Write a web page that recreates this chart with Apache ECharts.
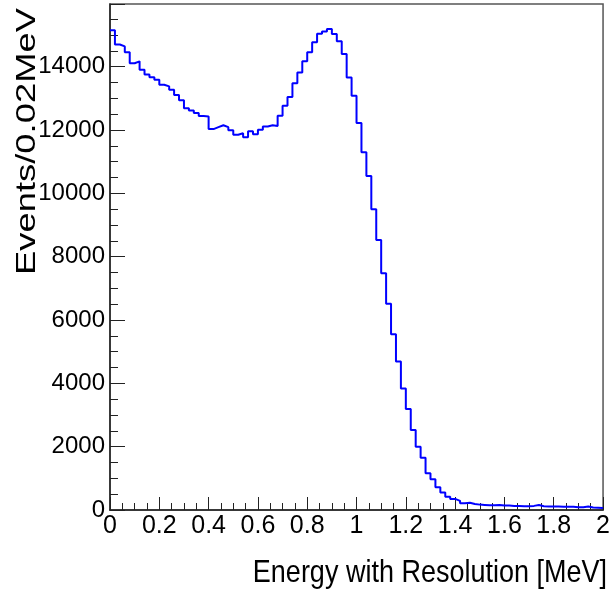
<!DOCTYPE html>
<html>
<head>
<meta charset="utf-8">
<script src="https://cdn.jsdelivr.net/npm/echarts@6/dist/echarts.min.js"></script>
<style>
html,body{margin:0;padding:0;background:#fff;}
#c{width:613px;height:594px;}
</style>
</head>
<body>
<div id="c"></div>
<script>
// Histogram: 100 bins of 0.02 MeV from 0 to 2 MeV
const binWidth = 0.02;
const binCounts = [
  15150, 14700, 14640, 14460, 14110, 14170, 13900, 13750, 13670, 13590,
  13430, 13380, 13270, 13110, 12940, 12690, 12620, 12540, 12440, 12430,
  12030, 12090, 12150, 12090, 11990, 11850, 11900, 11770, 11960, 11870,
  12010, 12110, 12150, 12130, 12450, 12770, 13040, 13480, 13820, 14170,
  14460, 14770, 15040, 15110, 15190, 15030, 14800, 14400, 13660, 13080,
  12220, 11300, 10550, 9500, 8530, 7480, 6510, 5550, 4690, 3840,
  3190, 2530, 2000, 1650, 1160, 970, 720, 550, 420, 350,
  290, 210, 230, 190, 170, 160, 150, 150, 160, 140,
  140, 130, 130, 120, 120, 130, 160, 120, 110, 110,
  110, 100, 100, 100, 90, 90, 110, 80, 70, 60
];
const xTitle = 'Energy with Resolution [MeV]';
const yTitle = 'Events/0.02MeV';

// each bin drawn as a flat top from its low edge to its high edge
const stepData = [];
binCounts.forEach((v, i) => {
  stepData.push([+(i * binWidth).toFixed(2), v]);
  stepData.push([+((i + 1) * binWidth).toFixed(2), v]);
});

const font = '"Liberation Sans", Arial, Helvetica, sans-serif';
const chart = echarts.init(document.getElementById('c'), null, {renderer: 'canvas'});
chart.setOption({
  animation: false,
  backgroundColor: '#fff',
  grid: {left: 110, right: 5, top: 4, bottom: 84, show: true, borderColor: '#555', borderWidth: 1.5, containLabel: false},
  xAxis: {
    type: 'value', min: 0, max: 2, interval: 0.2,
    axisLine: {show: true, onZero: false, lineStyle: {color: '#222', width: 1.5}},
    axisTick: {show: true, inside: true, length: 13, lineStyle: {color: '#222', width: 1}},
    minorTick: {show: true, splitNumber: 4, length: 7, lineStyle: {color: '#222', width: 1}},
    splitLine: {show: false},
    axisLabel: {margin: 4, color: '#000', fontSize: 25, fontFamily: font, showMinLabel: true, showMaxLabel: true}
  },
  yAxis: {
    type: 'value', min: 0, max: 15980, interval: 2000,
    axisLine: {show: true, lineStyle: {color: '#222', width: 1.5}},
    axisTick: {show: true, inside: true, length: 15, lineStyle: {color: '#222', width: 1}},
    minorTick: {show: true, splitNumber: 4, length: 8, lineStyle: {color: '#222', width: 1}},
    splitLine: {show: false},
    axisLabel: {margin: 5, color: '#000', fontSize: 24, fontFamily: font, showMaxLabel: false,
      formatter: (v) => String(Math.round(v))}
  },
  graphic: [
    {type: 'text', x: 607, y: 573, scaleY: 1.16,
     style: {text: xTitle, align: 'right', verticalAlign: 'middle', fontSize: 27, fontFamily: font, fill: '#000'}},
    {type: 'text', x: 27, y: 8, rotation: Math.PI / 2, scaleX: 1.3,
     style: {text: yTitle, align: 'right', verticalAlign: 'middle', fontSize: 28, fontFamily: font, fill: '#000'}}
  ],
  series: [{
    type: 'line', data: stepData, symbol: 'none',
    lineStyle: {color: '#0000ff', width: 2}
  }]
});
</script>
</body>
</html>
